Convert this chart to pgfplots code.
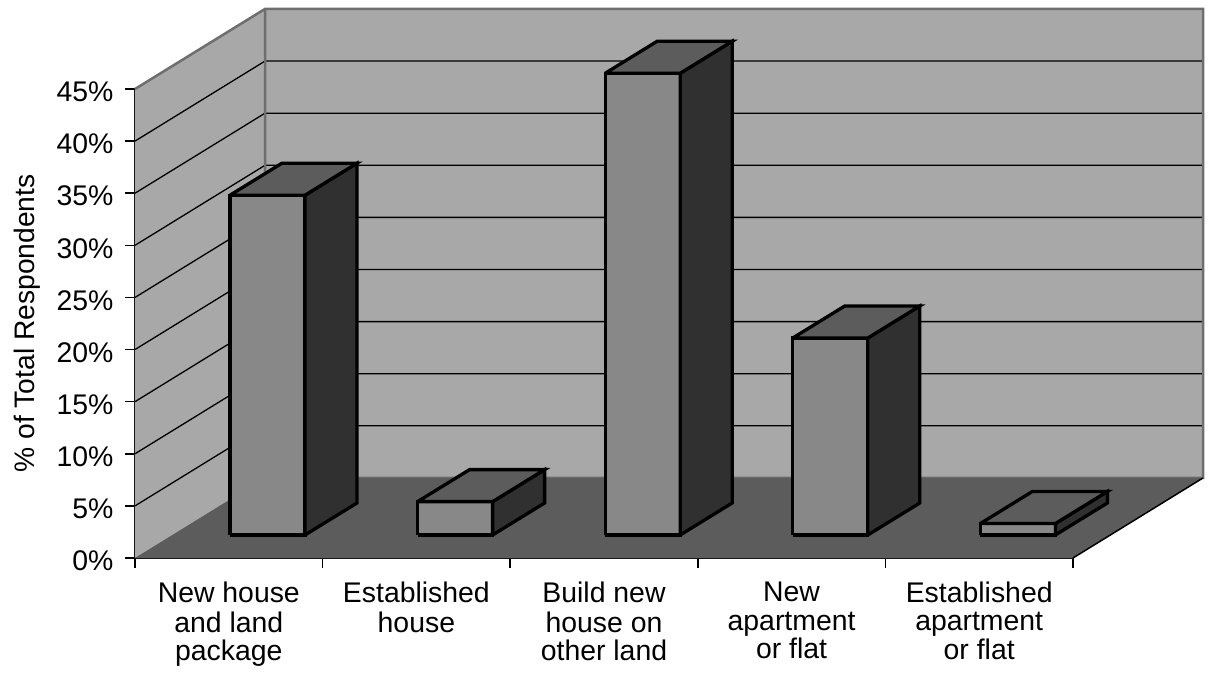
\documentclass[border=0pt]{standalone}
\usepackage{fontspec}
\setmainfont{Liberation Sans}
\usepackage{pgfplots}
\pgfplotsset{compat=1.18}

\definecolor{wallgray}{HTML}{A8A8A8}
\definecolor{floorgray}{HTML}{5C5C5C}
\definecolor{edgegray}{HTML}{6E6E6E}
\definecolor{frontgray}{HTML}{888888}
\definecolor{sidegray}{HTML}{303030}

% Oblique projection: a point at category u, height v and depth d (0 = front, 1 = back wall)
\pgfkeys{/pgfplots/table/oblique/.style={row sep=\\,
    x expr=\thisrow{u}+\thisrow{d}*0.693,
    y expr=\thisrow{v}+\thisrow{d}*7.68}}
\pgfplotsset{barface/.style={draw=black,line width=3.3pt,miter limit=6,line join=miter}}

% One column: #1 category index, #2 value in percent
\newcommand\column[2]{%
  \addplot[barface,fill=frontgray] table[oblique,x expr=\thisrow{u}+#1+\thisrow{d}*0.693]{
    u v d\\ 0.307 0 0.2875\\ 0.707 0 0.2875\\ 0.707 #2 0.2875\\ 0.307 #2 0.2875\\ 0.307 0 0.2875\\};
  \addplot[barface,fill=sidegray] table[oblique,x expr=\thisrow{u}+#1+\thisrow{d}*0.693]{
    u v d\\ 0.707 0 0.2875\\ 0.707 0 0.6875\\ 0.707 #2 0.6875\\ 0.707 #2 0.2875\\ 0.707 0 0.2875\\};
  \addplot[barface,fill=floorgray] table[oblique,x expr=\thisrow{u}+#1+\thisrow{d}*0.693]{
    u v d\\ 0.307 #2 0.2875\\ 0.707 #2 0.2875\\ 0.707 #2 0.6875\\ 0.307 #2 0.6875\\ 0.307 #2 0.2875\\};
}

\begin{document}
\begin{tikzpicture}[x=1pt,y=1pt]
\useasboundingbox (-135,-117) rectangle (1073,558);
\begin{axis}[
    at={(0,0)},anchor=origin,
    scale only axis,width=938pt,height=469pt,
    xmin=0,xmax=5,ymin=0,ymax=45,
    clip=false,
    axis x line*=bottom,axis y line*=left,
    axis line style={line width=1.5pt,black,-},
    xtick={0,1,2,3,4,5},
    x tick label as interval,
    xticklabels={{\strut New house\\and land\\package},{\strut Established\\house},{\strut Build new\\house on\\other land},{\strut New\\apartment\\or flat},{\strut Established\\apartment\\or flat}},
    ytick={0,5,...,45},
    yticklabel={\pgfmathprintnumber{\tick}\%},
    /pgf/number format/assume math mode=true,
    tick align=outside,
    major tick length=10pt,
    tick style={line width=1.5pt,black},
    every tick label/.append style={font=\fontsize{28.4}{28.6}\selectfont,black},
    x tick label style={align=center,anchor=north,yshift=-10pt},
    y tick label style={xshift=-8pt,yshift=-3pt},
    ylabel={\% of Total Respondents},
    every axis y label/.style={at={(axis description cs:0,0.5)},rotate=90,anchor=center,yshift=108pt,font=\fontsize{28.2}{29}\selectfont},
  ]
  % Floor
  \addplot[fill=floorgray,draw=none] table[oblique]{
    u v d\\ 0 0 0\\ 5 0 0\\ 5 0 1\\ 0 0 1\\ 0 0 0\\};
  % Left wall
  \addplot[fill=wallgray,draw=none] table[oblique]{
    u v d\\ 0 0 0\\ 0 45 0\\ 0 45 1\\ 0 0 1\\ 0 0 0\\};
  % Back wall
  \addplot[fill=wallgray,draw=none] table[oblique]{
    u v d\\ 0 0 1\\ 5 0 1\\ 5 45 1\\ 0 45 1\\ 0 0 1\\};
  % Grid lines on both walls
  \pgfplotsinvokeforeach{5,10,15,20,25,30,35,40}{
    \addplot[black,line width=1.3pt] table[oblique]{
      u v d\\ 0 #1 0\\ 0 #1 1\\ 5 #1 1\\};
  }
  % Wall edges
  \addplot[edgegray,line width=2.5pt,line join=miter] table[oblique]{
    u v d\\ 0 45 0\\ 0 45 1\\ 5 45 1\\ 5 0 1\\ 0 0 1\\ 0 45 1\\};
  % Floor redrawn over the foot of the walls
  \addplot[fill=floorgray,draw=none] table[oblique]{
    u v d\\ 0 0 0\\ 5 0 0\\ 5 0 1\\ 0 0 1\\ 0 0 0\\};
  \addplot[black,line width=1.5pt] table[oblique]{
    u v d\\ 5 0 0\\ 5 0 1\\};
  % Columns
  \column{0}{32.6}
  \column{1}{3.2}
  \column{2}{44.3}
  \column{3}{18.9}
  \column{4}{1.1}
\end{axis}
\end{tikzpicture}
\end{document}
